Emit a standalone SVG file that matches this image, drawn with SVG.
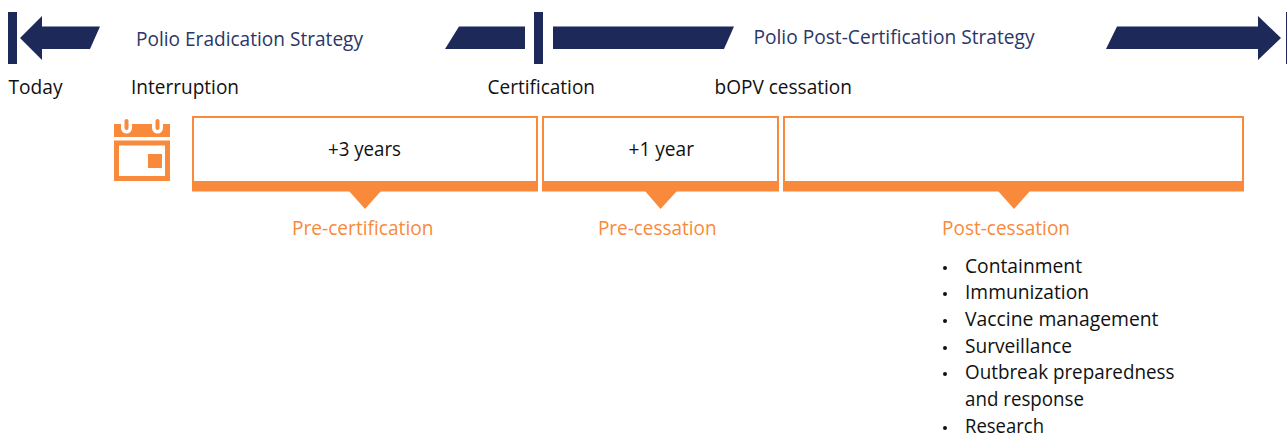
<svg xmlns="http://www.w3.org/2000/svg" width="1287" height="434" viewBox="0 0 1287 434">
<style>
text{font-family:"Open Sans","Noto Sans",sans-serif;font-size:20px;fill:#111}
.nav{fill:#1c2959}
.strat{fill:#2a3768}
.or{fill:#f98a3c}
.ot{fill:#f98a3c}
.box{fill:#fff;stroke:#f98a3c;stroke-width:2}
.b{fill:#111}
</style>
<rect width="1287" height="434" fill="#fff"/>
<g id="timeline-bars">
<rect class="nav" x="8" y="12" width="9" height="52"/>
<polygon class="nav" points="20,38 42,16 42,26.500 100,26.500 90,49 42,49 42,60"/>
<polygon class="nav" points="445,49 459,26.500 525,26.500 525,49"/>
<rect class="nav" x="534" y="12" width="9" height="52"/>
<polygon class="nav" points="553,26.500 734,26.500 724,49 553,49"/>
<polygon class="nav" points="1106,49 1117,26.500 1258,26.500 1258,16 1281,38 1258,60 1258,49"/>
<rect class="nav" x="1286" y="12" width="1" height="52"/>
</g>
<g id="strategy-labels">
<text class="strat" x="136" y="46" textLength="227" lengthAdjust="spacingAndGlyphs">Polio Eradication Strategy</text>
<text class="strat" x="753.500" y="44" textLength="281" lengthAdjust="spacingAndGlyphs">Polio Post-Certification Strategy</text>
</g>
<g id="milestones">
<text x="8.500" y="94" textLength="54" lengthAdjust="spacingAndGlyphs">Today</text>
<text x="131" y="94" textLength="108" lengthAdjust="spacingAndGlyphs">Interruption</text>
<text x="487.500" y="94" textLength="107.500" lengthAdjust="spacingAndGlyphs">Certification</text>
<text x="714.500" y="94" textLength="137.500" lengthAdjust="spacingAndGlyphs">bOPV cessation</text>
</g>
<g id="calendar">
<rect class="or" x="114" y="124" width="56" height="13"/>
<path d="M126.500 118v10" stroke="#fff" stroke-width="11" stroke-linecap="round"/>
<path d="M157.500 118v10" stroke="#fff" stroke-width="11" stroke-linecap="round"/>
<path d="M126.500 121v7" stroke="#f98a3c" stroke-width="4" stroke-linecap="round"/>
<path d="M157.500 121v7" stroke="#f98a3c" stroke-width="4" stroke-linecap="round"/>
<rect x="116.500" y="143" width="51" height="35.500" fill="#fff" stroke="#f98a3c" stroke-width="5"/>
<rect class="or" x="148" y="154" width="14" height="14"/>
</g>
<g id="pre-certification">
<rect class="box" x="193" y="117" width="344" height="70"/>
<rect class="or" x="192" y="181" width="346" height="10.500"/>
<polygon class="or" points="349,191 381,191 365,209"/>
<text x="328" y="156" textLength="73" lengthAdjust="spacingAndGlyphs">+3 years</text>
<text class="ot" x="292" y="235" textLength="141.500" lengthAdjust="spacingAndGlyphs">Pre-certification</text>
</g>
<g id="pre-cessation">
<rect class="box" x="543" y="117" width="235" height="70"/>
<rect class="or" x="542" y="181" width="237" height="10.500"/>
<polygon class="or" points="645,191 677,191 660.500,209"/>
<text x="628.500" y="156" textLength="65.500" lengthAdjust="spacingAndGlyphs">+1 year</text>
<text class="ot" x="598" y="235" textLength="118.500" lengthAdjust="spacingAndGlyphs">Pre-cessation</text>
</g>
<g id="post-cessation">
<rect class="box" x="784" y="117" width="459" height="70"/>
<rect class="or" x="783" y="181" width="461" height="10.500"/>
<polygon class="or" points="998,191 1030,191 1014,209"/>
<text class="ot" x="942" y="235" textLength="128" lengthAdjust="spacingAndGlyphs">Post-cessation</text>
<g id="post-cessation-list">
<circle class="b" cx="945" cy="268" r="2"/><text x="965" y="273" textLength="117" lengthAdjust="spacingAndGlyphs">Containment</text>
<circle class="b" cx="945" cy="294" r="2"/><text x="965" y="299" textLength="124" lengthAdjust="spacingAndGlyphs">Immunization</text>
<circle class="b" cx="945" cy="321" r="2"/><text x="965" y="326" textLength="193.500" lengthAdjust="spacingAndGlyphs">Vaccine management</text>
<circle class="b" cx="945" cy="348" r="2"/><text x="965" y="353" textLength="107" lengthAdjust="spacingAndGlyphs">Surveillance</text>
<circle class="b" cx="945" cy="374" r="2"/><text x="965" y="379" textLength="209.500" lengthAdjust="spacingAndGlyphs">Outbreak preparedness</text>
<text x="965" y="406" textLength="119" lengthAdjust="spacingAndGlyphs">and response</text>
<circle class="b" cx="945" cy="428" r="2"/><text x="965" y="432.500" textLength="79" lengthAdjust="spacingAndGlyphs">Research</text>
</g>
</g>
</svg>
